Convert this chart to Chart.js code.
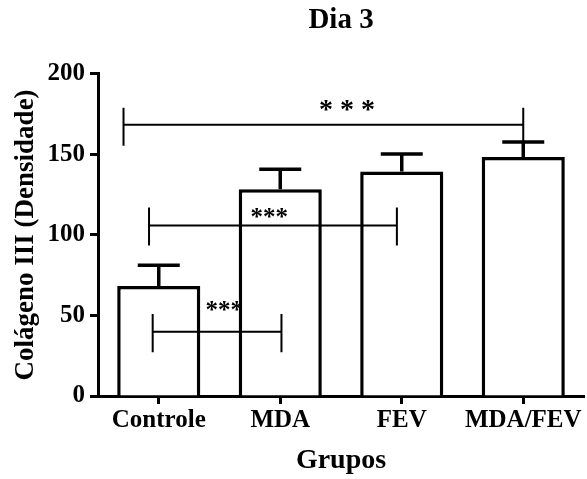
<!DOCTYPE html>
<html>
<head>
<meta charset="utf-8">
<script src="https://cdn.jsdelivr.net/npm/chart.js@4.4.0/dist/chart.umd.min.js"></script>
<style>
  html, body { margin: 0; padding: 0; background: #fff; }
  #wrap { width: 587px; height: 479px; }
</style>
</head>
<body>
<div id="wrap"><canvas id="chart"></canvas></div>
<script>
const groups = ['Controle', 'MDA', 'FEV', 'MDA/FEV'];
const means = [68.3, 128.4, 139.3, 148.3];
const errTop = [81.2, 140.8, 150.2, 157.6];

// significance brackets (x in category index units, y in data units)
const bracketFrom = [-0.29, -0.08, -0.05];
const bracketTo = [3.0, 1.96, 1.01];
const bracketY = [168.3, 105.8, 39.9];
const bracketTickHi = [178.9, 117, 50.9];
const bracketTickLo = [155.3, 93.4, 27.1];
const starText = ['* * *', '***', '***'];
const starX = [1.55, 0.91, 0.54];
const starY = [180.7, 113, 55.5];

const serif = 'Liberation Serif';

const annotations = {
  id: 'annotations',
  afterDatasetsDraw(chart) {
    const {ctx, scales: {x, y}} = chart;
    ctx.save();
    ctx.strokeStyle = '#000';
    ctx.fillStyle = '#000';

    // error bars
    ctx.lineWidth = 3.5;
    means.forEach((m, i) => {
      const cx = x.getPixelForValue(i);
      const top = y.getPixelForValue(errTop[i]);
      ctx.beginPath();
      ctx.moveTo(cx, y.getPixelForValue(m));
      ctx.lineTo(cx, top);
      ctx.moveTo(cx - 21, top);
      ctx.lineTo(cx + 21, top);
      ctx.stroke();
    });

    // brackets
    ctx.lineWidth = 2;
    bracketY.forEach((v, i) => {
      const x1 = x.getPixelForValue(bracketFrom[i]);
      const x2 = x.getPixelForValue(bracketTo[i]);
      const yy = y.getPixelForValue(v);
      const hi = y.getPixelForValue(bracketTickHi[i]);
      const lo = y.getPixelForValue(bracketTickLo[i]);
      ctx.beginPath();
      ctx.moveTo(x1, yy);
      ctx.lineTo(x2, yy);
      ctx.moveTo(x1, hi);
      ctx.lineTo(x1, lo);
      ctx.moveTo(x2, hi);
      ctx.lineTo(x2, lo);
      ctx.stroke();
    });

    // stars
    ctx.textAlign = 'center';
    ctx.textBaseline = 'middle';
    starText.forEach((t, i) => {
      const size = i === 0 ? 28 : 25;
      ctx.font = 'bold ' + size + 'px "' + serif + '"';
      ctx.fillText(t, x.getPixelForValue(starX[i]), y.getPixelForValue(starY[i]) + size * 0.2);
    });
    ctx.restore();
  }
};

new Chart(document.getElementById('chart'), {
  type: 'bar',
  data: {
    labels: groups,
    datasets: [{
      data: means,
      backgroundColor: '#fff',
      borderColor: '#000',
      borderWidth: 3.5,
      borderSkipped: 'bottom',
      barPercentage: 0.684,
      categoryPercentage: 1,
    }],
  },
  options: {
    responsive: true,
    maintainAspectRatio: false,
    animation: false,
    devicePixelRatio: 1,
    layout: {
      padding: {left: 0, right: 3, top: 0, bottom: 0},
    },
    plugins: {
      legend: {display: false},
      tooltip: {enabled: false},
      title: {
        display: true,
        fullSize: false,
        text: 'Dia 3',
        color: '#000',
        font: {family: serif, size: 29, weight: 'bold'},
        padding: {top: 3, bottom: 36},
      },
    },
    scales: {
      x: {
        afterFit: (s) => { s.height = 83; },
        border: {color: '#000', width: 3},
        grid: {
          display: true,
          offset: false,
          drawOnChartArea: false,
          drawTicks: true,
          tickLength: 8,
          tickWidth: 3,
          tickColor: '#000',
        },
        ticks: {
          color: '#000',
          padding: 2,
          maxRotation: 0,
          font: {family: serif, size: 25, weight: 'bold'},
        },
        title: {
          display: true,
          text: 'Grupos',
          color: '#000',
          font: {family: serif, size: 28, weight: 'bold'},
          padding: {top: 0, bottom: 1},
        },
      },
      y: {
        min: 0,
        max: 200,
        afterFit: (s) => { s.width = 98; },
        border: {color: '#000', width: 3},
        grid: {
          display: true,
          drawOnChartArea: false,
          drawTicks: true,
          tickLength: 8,
          tickWidth: 3,
          tickColor: '#000',
        },
        ticks: {
          stepSize: 50,
          color: '#000',
          padding: 5,
          font: {family: serif, size: 25, weight: 'bold'},
        },
        title: {
          display: true,
          text: 'Colágeno III (Densidade)',
          color: '#000',
          font: {family: serif, size: 27, weight: 'bold'},
          padding: {top: 10, bottom: 0},
        },
      },
    },
  },
  plugins: [annotations],
});
</script>
</body>
</html>
